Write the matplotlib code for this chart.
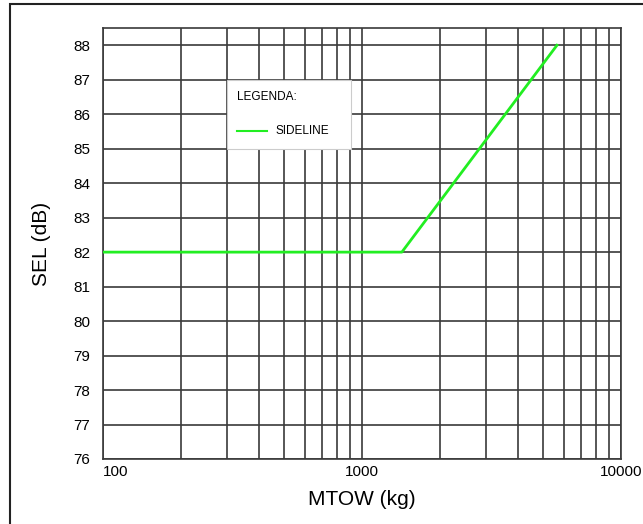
import numpy as np
import matplotlib
matplotlib.use("Agg")
import matplotlib.pyplot as plt
from matplotlib.patches import Rectangle
from matplotlib.lines import Line2D

plt.rcParams["font.family"] = ["Liberation Sans", "DejaVu Sans"]

# SIDELINE noise limit: flat 82 dB, then rising with log(MTOW)
mtow = [100, 1425, 5660]
sel = [82, 82, 88]
x_ticks = [100, 1000, 10000]
x_tick_labels = ["100", "1000", "10000"]
y_ticks = list(range(76, 89))

W, H = 643, 524
fig = plt.figure(figsize=(W / 100, H / 100), dpi=100)
ax = fig.add_axes([103 / W, 1 - 459 / H, (621 - 103) / W, (459 - 28) / H])

grid_c = "#3a3a3a"
ax.set_xscale("log")
ax.set_xlim(100, 10000)
ax.set_ylim(76, 88.5)

ax.set_xticks(x_ticks)
ax.set_xticklabels(x_tick_labels)
ax.set_xticks([m * d for d in (100, 1000) for m in range(2, 10)], minor=True)
ax.set_yticks(y_ticks)
ax.tick_params(which="both", length=0)
ax.tick_params(axis="x", pad=4, labelsize=11)
ax.tick_params(axis="y", pad=9, labelsize=11)
lbls = ax.get_xticklabels()
lbls[0].set_horizontalalignment("left")

ax.grid(True, which="major", color=grid_c, lw=1.2)
ax.grid(True, which="minor", axis="x", color=grid_c, lw=1.2)
ax.set_axisbelow(True)
for s in ax.spines.values():
    s.set_color(grid_c)
    s.set_linewidth(1.2)

ax.plot(mtow, sel, color="#22ee22", lw=2, zorder=3)

ax.set_xlabel("MTOW (kg)", fontsize=15, labelpad=8)
ax.set_ylabel("SEL (dB)", fontsize=15, labelpad=16)

# legend box (drawn manually, figure pixel coords)
def fx(px):
    return px / W


def fy(py):
    return 1 - py / H


fig.patches.append(Rectangle((fx(227), fy(149)), fx(351) - fx(227), fy(80) - fy(149),
                             transform=fig.transFigure, facecolor="white",
                             edgecolor="#cccccc", lw=0.8, zorder=5))
fig.text(fx(237), fy(97), "LEGENDA:", fontsize=8.5, va="center", ha="left", zorder=6)
fig.lines.append(Line2D([fx(237), fx(267)], [fy(131), fy(131)], transform=fig.transFigure,
                        color="#22ee22", lw=1.5, zorder=6))
fig.text(fx(275), fy(131), "SIDELINE", fontsize=8.5, va="center", ha="left", zorder=6)

# outer frame
fig.patches.append(Rectangle((fx(10), fy(530)), fx(650) - fx(10), fy(4) - fy(530),
                             transform=fig.transFigure, facecolor="none",
                             edgecolor="#222222", lw=1.5))

fig.savefig("out.png", dpi=100)
